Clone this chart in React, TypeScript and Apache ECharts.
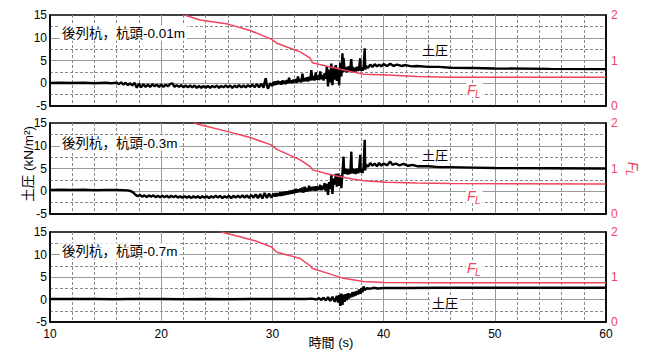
import React, { useEffect, useRef } from 'react';
import * as echarts from 'echarts';

// ---- data ----
const xMin = 10;
const xMax = 60;
const xInterval = 10;
const leftMin = -5;
const leftMax = 15;
const leftInterval = 5;
const rightMin = 0;
const rightMax = 2;
const rightInterval = 1;

const panelLabels = ['後列杭，杭頭-0.01m', '後列杭，杭頭-0.3m', '後列杭，杭頭-0.7m'];
const pressureLabel = '土圧';
const xTitle = '時間 (s)';
const yTitle = '土圧 (kN/m²)';

const pressure1: [number, number][] = [
  [10, 0.05], [11, 0.1], [12, 0.05], [13, 0.1], [14, 0.0], [15, 0.1], [15.5, 0.0], [16.0, 0.1], [16.2, -0.2], [16.4, 0.2],
  [16.6, -0.3], [16.8, 0.1], [17.0, -0.4], [17.2, 0.0], [17.4, -0.5], [17.6, 0.1], [17.8, -1.0], [18.0, -0.1], [18.2, -0.9],
  [18.4, -0.2], [18.6, -0.8], [18.8, -0.3], [19.0, -0.8], [19.2, -0.2], [19.4, -0.7], [19.6, -0.3], [19.8, -0.8], [20.0, -0.3],
  [20.2, -0.8], [20.4, -0.3], [20.6, -0.7], [20.8, -0.2], [21.0, 0.0], [21.2, -0.8], [21.4, -0.4], [21.6, -0.8], [21.8, -0.4],
  [22.0, -0.9], [22.2, -0.5], [22.4, -0.9], [22.6, -0.5], [22.8, -0.9], [23.0, -0.5], [23.2, -1.0], [23.4, -0.6], [23.6, -1.0],
  [23.8, -0.6], [24.0, -1.0], [24.2, -0.6], [24.4, -1.0], [24.6, -0.6], [24.8, -0.9], [25.0, -0.5], [25.2, -1.0], [25.4, -0.6],
  [25.6, -0.9], [25.8, -0.5], [26.0, -0.9], [26.2, -0.5], [26.4, -1.0], [26.6, -0.5], [26.8, -0.9], [27.0, -0.4], [27.2, -0.9],
  [27.4, -0.5], [27.6, -0.9], [27.8, -0.4], [28.0, -0.8], [28.2, -0.3], [28.4, -0.9], [28.6, -0.2], [28.8, -0.9], [29.0, -0.1],
  [29.2, -1.0], [29.3, 0.2], [29.4, 1.1], [29.5, -0.4], [29.6, -1.2], [29.8, 0.0], [30.0, -0.6], [30.1, 0.3], [30.2, -0.4],
  [30.3, 0.4], [30.4, -0.3], [30.5, 0.5], [30.6, -0.2], [30.7, 0.4], [30.8, -0.3], [30.9, 0.6], [31.0, -0.1], [31.1, 0.5],
  [31.2, -0.2], [31.3, 0.7], [31.4, 0.0], [31.5, 1.2], [31.6, 0.1], [31.7, 0.6], [31.8, 0.0], [31.9, 0.8], [32.0, 0.2],
  [32.1, 0.9], [32.2, 0.1], [32.3, 1.5], [32.4, 0.3], [32.5, 0.9], [32.6, 0.2], [32.7, 2.1], [32.8, 0.4], [32.9, 1.1],
  [33.0, 0.5], [33.1, 1.3], [33.2, 0.4], [33.3, 1.4], [33.4, 0.6], [33.5, 2.9], [33.6, 0.7], [33.7, 1.6], [33.8, 0.6],
  [33.9, 2.4], [34.0, 0.8], [34.1, 1.7], [34.2, 0.7], [34.3, 2.6], [34.4, 0.9], [34.5, 1.8], [34.6, 0.6], [34.7, 2.2],
  [34.8, 1.0], [34.9, 3.7], [35.0, -0.7], [35.1, 3.0], [35.2, 0.2], [35.3, 4.3], [35.4, -0.4], [35.5, 3.6], [35.6, 0.8],
  [35.7, 4.0], [35.8, 0.5], [35.9, 3.4], [36.0, -0.4], [36.1, 4.5], [36.2, 1.5], [36.3, 6.6], [36.35, 2.4], [36.4, 5.5],
  [36.5, 2.6], [36.6, 3.5], [36.7, 2.4], [36.8, 3.7], [36.9, 2.5], [37.0, 3.4], [37.1, 5.3], [37.15, 2.6], [37.2, 3.6],
  [37.3, 2.5], [37.4, 3.4], [37.5, 2.6], [37.6, 3.6], [37.7, 2.7], [37.8, 3.4], [37.9, 5.5], [37.95, 2.7], [38.0, 3.5],
  [38.1, 2.8], [38.2, 3.5], [38.3, 7.7], [38.35, 3.0], [38.4, 3.8], [38.6, 3.4], [38.8, 4.1], [39.0, 3.6], [39.2, 4.2],
  [39.4, 3.7], [39.6, 4.1], [39.8, 3.7], [40.0, 4.2], [40.3, 3.8], [40.6, 4.3], [40.9, 3.8], [41.2, 4.1], [41.6, 3.8],
  [42.0, 4.0], [42.5, 3.7], [43, 3.8], [44, 3.6], [45, 3.6], [46, 3.4], [48, 3.35], [50, 3.25], [55, 3.15], [60, 3.1],
];

const pressure2: [number, number][] = [
  [10, 0.3], [11, 0.35], [12, 0.3], [13, 0.35], [14, 0.25], [15, 0.3], [16.0, 0.3], [16.5, 0.25], [17.0, 0.2], [17.3, 0.0],
  [17.5, -0.3], [17.7, -0.8], [17.9, -1.1], [18.1, -0.8], [18.3, -1.2], [18.5, -0.9], [18.7, -1.3], [18.9, -0.9], [19.1, -1.2],
  [19.3, -0.9], [19.5, -1.3], [19.7, -1.0], [19.9, -1.3], [20.1, -1.0], [20.3, -1.3], [20.5, -1.0], [20.7, -1.4], [20.9, -1.0],
  [21.1, -1.3], [21.3, -1.0], [21.5, -1.4], [21.7, -1.1], [21.9, -1.4], [22.1, -1.1], [22.3, -1.4], [22.5, -1.1], [22.7, -1.5],
  [22.9, -1.1], [23.1, -1.4], [23.3, -1.1], [23.5, -1.5], [23.7, -1.1], [23.9, -1.4], [24.1, -1.1], [24.3, -1.5], [24.5, -1.1],
  [24.7, -1.4], [24.9, -1.0], [25.1, -1.4], [25.3, -1.0], [25.5, -1.5], [25.7, -1.1], [25.9, -1.4], [26.1, -1.0], [26.3, -1.5],
  [26.5, -1.0], [26.7, -1.4], [26.9, -1.0], [27.1, -1.4], [27.3, -0.9], [27.5, -1.4], [27.7, -0.9], [27.9, -1.5], [28.1, -0.8],
  [28.3, -1.4], [28.5, -0.7], [28.7, -1.5], [28.9, -0.6], [29.1, -1.6], [29.3, -0.4], [29.5, -1.5], [29.7, -0.5], [29.9, -1.4],
  [30.1, -0.5], [30.2, -1.2], [30.3, -0.4], [30.4, -1.1], [30.5, -0.4], [30.6, -1.0], [30.7, -0.2], [30.8, -1.0], [30.9, -0.2],
  [31.0, -0.9], [31.1, -0.1], [31.2, -0.8], [31.3, 0.0], [31.4, -0.7], [31.5, 0.1], [31.6, -0.6], [31.7, 0.2], [31.8, -0.5],
  [31.9, 0.3], [32.0, -0.4], [32.1, 0.5], [32.2, -0.3], [32.3, 0.4], [32.4, -0.2], [32.5, 0.6], [32.6, -0.2], [32.7, 0.8],
  [32.8, -0.3], [32.9, 1.0], [33.0, -0.1], [33.1, 0.7], [33.2, 0.0], [33.3, 1.2], [33.4, 0.1], [33.5, 0.9], [33.6, 0.2],
  [33.7, 1.0], [33.8, 0.1], [33.9, 1.1], [34.0, 0.2], [34.1, 1.0], [34.2, 0.3], [34.3, 1.4], [34.4, 0.2], [34.5, 1.2],
  [34.6, 0.4], [34.7, 1.8], [34.8, 0.0], [34.9, 1.6], [35.0, -0.8], [35.1, 2.0], [35.2, 0.5], [35.3, 3.6], [35.4, -0.6],
  [35.5, 2.8], [35.6, 1.5], [35.7, 3.8], [35.8, 1.0], [35.9, 3.9], [36.0, 1.2], [36.1, 3.5], [36.2, 0.7], [36.3, 4.0],
  [36.4, 7.6], [36.45, 3.8], [36.5, 5.0], [36.6, 3.8], [36.7, 4.9], [36.8, 3.7], [36.9, 4.8], [37.0, 3.8], [37.1, 8.7],
  [37.15, 4.0], [37.2, 5.0], [37.3, 3.9], [37.4, 4.9], [37.5, 3.8], [37.6, 5.0], [37.7, 4.0], [37.8, 4.8], [37.9, 8.0],
  [37.95, 4.1], [38.0, 5.0], [38.1, 4.0], [38.2, 5.1], [38.3, 11.3], [38.35, 4.6], [38.4, 5.9], [38.6, 5.4], [38.8, 6.2],
  [39.0, 5.6], [39.2, 6.1], [39.4, 5.5], [39.6, 6.2], [39.8, 5.6], [40.0, 6.1], [40.3, 5.7], [40.6, 6.5], [40.8, 5.8],
  [41.1, 6.1], [41.4, 5.7], [41.8, 6.0], [42.2, 5.6], [42.6, 5.8], [43, 5.5], [44, 5.5], [45, 5.3], [46, 5.3], [48, 5.2],
  [50, 5.1], [55, 5.05], [60, 5.0],
];

const pressure3: [number, number][] = [
  [10, 0.1], [12, 0.15], [14, 0.1], [16, 0.05], [17, 0.1], [18, 0.1], [20, 0.1], [22, 0.05], [24, 0.1], [26, 0.05],
  [28, 0.1], [30, 0.1], [32, 0.1], [33.0, 0.1], [33.5, 0.2], [34.0, 0.0], [34.2, 0.3], [34.4, -0.1], [34.6, 0.4],
  [34.8, -0.2], [35.0, 0.5], [35.2, -0.3], [35.4, 0.6], [35.6, -0.5], [35.8, 0.8], [35.9, -0.7], [36.0, 1.0], [36.1, -1.4],
  [36.2, 1.3], [36.3, -1.2], [36.4, 1.1], [36.5, -0.5], [36.6, 1.2], [36.7, -0.2], [36.8, 1.4], [36.9, 0.2], [37.0, 1.3],
  [37.1, 0.5], [37.2, 1.6], [37.3, 0.7], [37.4, 1.7], [37.5, 0.9], [37.6, 1.9], [37.7, 1.1], [37.8, 2.2], [37.9, 1.3],
  [38.0, 2.5], [38.1, 1.6], [38.2, 2.9], [38.3, 2.1], [38.5, 2.5], [38.8, 2.4], [39.1, 2.6], [39.5, 2.45], [40, 2.55],
  [42, 2.55], [45, 2.6], [50, 2.6], [55, 2.65], [60, 2.6],
];

const fl1: [number, number][] = [
  [22.1, 2.0], [23.5, 1.89], [26, 1.80], [28, 1.66], [29.9, 1.47], [30.4, 1.38], [31.5, 1.28], [32.5, 1.19], [33.4, 1.05],
  [33.6, 0.95], [35, 0.87], [36.1, 0.81], [37.2, 0.75], [38.2, 0.70], [40.3, 0.68], [43, 0.65], [46, 0.63], [60, 0.63],
];
const fl2: [number, number][] = [
  [22.9, 2.0], [23.5, 1.96], [26, 1.81], [28, 1.68], [29.9, 1.52], [30.4, 1.42], [31.5, 1.30], [32.5, 1.19], [33.4, 1.04],
  [33.6, 0.97], [35, 0.88], [36.1, 0.82], [37.2, 0.77], [38.2, 0.73], [40.3, 0.70], [43, 0.68], [46, 0.67], [60, 0.66],
];
const fl3: [number, number][] = [
  [25.4, 2.0], [27, 1.90], [28.5, 1.80], [29.9, 1.67], [30.4, 1.55], [31.5, 1.48], [32.5, 1.41], [33.4, 1.25], [33.6, 1.19],
  [35, 1.08], [36.4, 0.97], [37.5, 0.93], [38.2, 0.90], [40, 0.88], [46, 0.87], [60, 0.87],
];

const pressures = [pressure1, pressure2, pressure3];
const fls = [fl1, fl2, fl3];

// ---- layout / style ----
const RED = '#f0445a';
const FONT = '"Liberation Sans", "Noto Sans CJK JP", sans-serif';
const grids = [
  { left: 50, right: 42, top: 15, height: 91 },
  { left: 50, right: 42, top: 123, height: 91 },
  { left: 50, right: 42, top: 232, height: 90 },
];
const panelLabelY = [33, 143, 251];
const pressureLabelPos = [[435, 50], [435, 155], [445, 303]];
const flLabelY = [90, 196, 268];

function buildOption() {
  const xAxis: any[] = [];
  const yAxis: any[] = [];
  const series: any[] = [];
  const graphic: any[] = [];

  grids.forEach((g, i) => {
    xAxis.push({
      type: 'value', gridIndex: i, min: xMin, max: xMax, interval: xInterval,
      axisLine: { show: true, onZero: false, lineStyle: { color: '#000', width: 1.5 } },
      axisTick: { show: false },
      axisLabel: { show: i === 2, color: '#000', fontSize: 12, fontFamily: FONT, margin: 6 },
      splitLine: { show: true, showMinLine: false, showMaxLine: false, lineStyle: { color: '#9a9a9a', width: 1 } },
      minorTick: { show: false, splitNumber: 5 },
      minorSplitLine: { show: true, lineStyle: { color: '#8a8a8a', width: 1, type: [3, 2] } },
    });
    yAxis.push({
      type: 'value', gridIndex: i, min: leftMin, max: leftMax, interval: leftInterval, position: 'left',
      axisLine: { show: true, onZero: false, lineStyle: { color: '#000', width: 1.5 } },
      axisTick: { show: false },
      axisLabel: { color: '#000', fontSize: 12, fontFamily: FONT, margin: 3 },
      splitLine: { show: true, showMinLine: false, showMaxLine: false, lineStyle: { color: '#9a9a9a', width: 1 } },
      minorTick: { show: false, splitNumber: 2 },
      minorSplitLine: { show: true, lineStyle: { color: '#8a8a8a', width: 1, type: [3, 2] } },
    });
    yAxis.push({
      type: 'value', gridIndex: i, min: rightMin, max: rightMax, interval: rightInterval, position: 'right',
      axisLine: { show: true, onZero: false, lineStyle: { color: '#000', width: 1.5 } },
      axisTick: { show: false },
      axisLabel: { color: RED, fontSize: 12, fontFamily: FONT, margin: 5 },
      splitLine: { show: false },
    });
    series.push({
      type: 'line', xAxisIndex: i, yAxisIndex: 2 * i, data: pressures[i], showSymbol: false, symbol: 'none',
      lineStyle: { color: '#000', width: 2.4 }, z: 3, clip: true,
    });
    series.push({
      type: 'line', xAxisIndex: i, yAxisIndex: 2 * i + 1, data: fls[i], showSymbol: false, symbol: 'none',
      lineStyle: { color: RED, width: 1.5 }, z: 4, clip: true,
    });

    graphic.push({
      type: 'text', x: 60, y: panelLabelY[i], z: 10,
      style: { text: panelLabels[i], font: `13.5px ${FONT}`, fill: '#000', verticalAlign: 'middle', align: 'left',
        backgroundColor: '#fff', padding: [1, 2] },
    });
    graphic.push({
      type: 'text', x: pressureLabelPos[i][0], y: pressureLabelPos[i][1], z: 10,
      style: { text: pressureLabel, font: `13px ${FONT}`, fill: '#000', verticalAlign: 'middle', align: 'center',
        backgroundColor: '#fff', padding: [1, 2] },
    });
    graphic.push({
      type: 'text', x: 466, y: flLabelY[i], z: 10,
      style: { text: 'F', font: `italic 14px ${FONT}`, fill: RED, verticalAlign: 'middle', align: 'left',
        backgroundColor: '#fff', padding: [0, 7, 0, 1] },
    });
    graphic.push({
      type: 'text', x: 475, y: flLabelY[i] + 4, z: 11,
      style: { text: 'L', font: `italic 10px ${FONT}`, fill: RED, verticalAlign: 'middle', align: 'left' },
    });
  });

  graphic.push({
    type: 'text', x: 28, y: 164, rotation: Math.PI / 2, z: 10,
    style: { text: yTitle, font: `13.5px ${FONT}`, fill: '#000', align: 'center', verticalAlign: 'middle' },
  });
  graphic.push({
    type: 'text', x: 331, y: 342, z: 10,
    style: { text: xTitle, font: `13px ${FONT}`, fill: '#000', align: 'center', verticalAlign: 'middle' },
  });
  graphic.push({
    type: 'group', x: 633, y: 166, rotation: -Math.PI / 2, z: 10,
    children: [
      { type: 'text', x: 0, y: 0, style: { text: 'F', font: `italic 14px ${FONT}`, fill: RED, align: 'center', verticalAlign: 'middle' } },
      { type: 'text', x: 7, y: 4, style: { text: 'L', font: `italic 10px ${FONT}`, fill: RED, align: 'center', verticalAlign: 'middle' } },
    ],
  });

  return {
    animation: false,
    backgroundColor: '#fff',
    grid: grids.map((g) => ({ ...g, show: true, borderColor: '#000', borderWidth: 1.5, backgroundColor: 'transparent' })),
    xAxis,
    yAxis,
    series,
    graphic,
  };
}

export default function App() {
  const ref = useRef<HTMLDivElement>(null);
  useEffect(() => {
    const chart = echarts.init(ref.current!, undefined, { renderer: 'svg' });
    chart.setOption(buildOption() as any);
    return () => chart.dispose();
  }, []);
  return (
    <div
      ref={ref}
      style={{ position: 'fixed', left: 0, top: 0, width: 648, height: 351, background: '#fff' }}
    />
  );
}
